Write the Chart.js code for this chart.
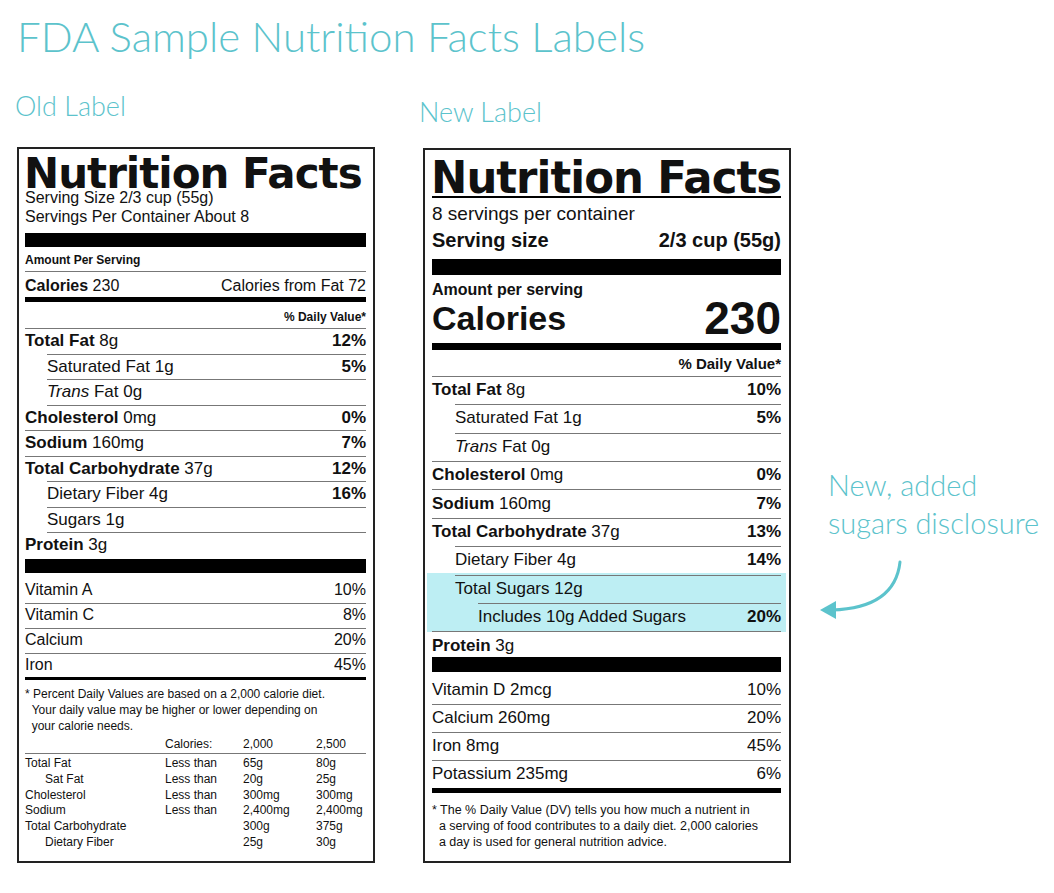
<!DOCTYPE html>
<html><head><meta charset="utf-8">
<script src="https://cdn.jsdelivr.net/npm/chart.js@4"></script>
<style>
body{margin:0;width:1054px;height:893px;background:#fff;position:relative;overflow:hidden;font-family:"Liberation Sans",Arial,sans-serif;color:#111}
.t{position:absolute;white-space:nowrap}
.teal{color:#5cc3cc;font-family:Lato,"Open Sans",sans-serif;font-weight:300}
.box{position:absolute;border:2px solid #222;box-sizing:border-box}
.bar{position:absolute;background:#000}
.rule{position:absolute;height:1px;background:#777}
.row{position:absolute;display:flex;justify-content:space-between;align-items:center}
b{font-weight:900}
.nf{position:absolute;font-family:"DejaVu Sans",sans-serif;font-weight:900;letter-spacing:-1px;transform-origin:left top;line-height:1}
#arrow{position:absolute;left:800px;top:550px;width:120px;height:80px}
</style></head><body>
<div class="t teal" style="left:17px;top:11px;font-size:42px">FDA Sample Nutrition Facts Labels</div>
<div class="t teal" style="left:15px;top:89px;font-size:27px">Old Label</div>
<div class="t teal" style="left:419px;top:95px;font-size:27px">New Label</div>
<div class="t teal" style="left:828px;top:466px;font-size:29px;line-height:38px">New, added<br>sugars disclosure</div>
<div id="hl" style="position:absolute;left:427px;top:573px;width:359px;height:59px;background:#bdeef3"></div>
<div class="box" style="left:17px;top:147px;width:358px;height:716px"></div>
<div class="box" style="left:423px;top:148px;width:368px;height:715px"></div>
<div id="root"></div>
<div id="arrow"><canvas id="c" width="120" height="80"></canvas></div>
<script>
// Old label
const oldNames=["Total Fat","Saturated Fat","Trans Fat","Cholesterol","Sodium","Total Carbohydrate","Dietary Fiber","Sugars","Protein"];
const oldAmounts=["8g","1g","0g","0mg","160mg","37g","4g","1g","3g"];
const oldDV=["12%","5%","","0%","7%","12%","16%","",""];
const oldVitNames=["Vitamin A","Vitamin C","Calcium","Iron"];
const oldVitDV=["10%","8%","20%","45%"];
const oldTableHead=["Calories:","2,000","2,500"];
const oldTableRows=["Total Fat","Sat Fat","Cholesterol","Sodium","Total Carbohydrate","Dietary Fiber"];
const oldTableLimit=["Less than","Less than","Less than","Less than","",""];
const oldTable2000=["65g","20g","300mg","2,400mg","300g","25g"];
const oldTable2500=["80g","25g","300mg","2,400mg","375g","30g"];
// New label
const newNames=["Total Fat","Saturated Fat","Trans Fat","Cholesterol","Sodium","Total Carbohydrate","Dietary Fiber","Total Sugars","Includes 10g Added Sugars","Protein"];
const newAmounts=["8g","1g","0g","0mg","160mg","37g","4g","12g","","3g"];
const newDV=["10%","5%","","0%","7%","13%","14%","","20%",""];
const newVitNames=["Vitamin D 2mcg","Calcium 260mg","Iron 8mg","Potassium 235mg"];
const newVitDV=["10%","20%","45%","6%"];

const root=document.getElementById('root');
function add(html){root.insertAdjacentHTML('beforeend',html);}
function t(x,y,s,css){add(`<div class="t" style="left:${x}px;top:${y}px;${css||''}">${s}</div>`);}
function bar(x,y,w,h){add(`<div class="bar" style="left:${x}px;top:${y}px;width:${w}px;height:${h}px"></div>`);}
function rule(x,y,w){add(`<div class="rule" style="left:${x}px;top:${y}px;width:${w}px"></div>`);}
function row(x,y,w,l,r,fs,h){add(`<div class="row" style="left:${x}px;top:${y-h/2}px;width:${w}px;height:${h}px;font-size:${fs}px"><span>${l}</span><span>${r}</span></div>`);}
const boldMain=new Set(["Total Fat","Cholesterol","Sodium","Total Carbohydrate","Protein"]);
function nm(n){return n==="Trans Fat"?"<i>Trans</i> Fat":(boldMain.has(n)?`<b>${n}</b>`:n);}

// ---- OLD
const ox=25,ow=341;
add(`<div class="nf" style="left:24px;top:153px;font-size:42px;transform:scaleX(1.0)">Nutrition Facts</div>`);
t(ox,189,"Serving Size 2/3 cup (55g)","font-size:16px");
t(ox,208,"Servings Per Container About 8","font-size:16px");
bar(ox,233,ow,14);
t(ox,253,"<b>Amount Per Serving</b>","font-size:12px");
rule(ox,271,ow);
row(ox,286,ow,"<b>Calories</b> 230","Calories from Fat 72",16,24);
bar(ox,297,ow,5);
row(ox,317,ow,"",`<b>% Daily Value*</b>`,12,20);
rule(ox,328,ow);
const indO=["Saturated Fat","Trans Fat","Dietary Fiber","Sugars"];
oldNames.forEach((n,i)=>{const y=341+i*25.5;const ind=indO.includes(n);
 row(ox+(ind?22:0),y,ow-(ind?22:0),`${nm(n)} ${oldAmounts[i]}`,oldDV[i]?`<b>${oldDV[i]}</b>`:"",17,25);
 if(i<oldNames.length-1){const r=(ind||indO.includes(oldNames[i+1]))?22:0;rule(ox+r,y+12.5,ow-r);}});
bar(ox,559,ow,14);
oldVitNames.forEach((n,i)=>{const y=590+i*25;row(ox,y,ow,n,oldVitDV[i],16,25);rule(ox,y+12.5,ow);});
bar(ox,677,ow,3);
t(ox,686,"* Percent Daily Values are based on a 2,000 calorie diet.<br>&nbsp;&nbsp;Your daily value may be higher or lower depending on<br>&nbsp;&nbsp;your calorie needs.","font-size:12px;line-height:16px");
const cx=[25,165,243,316];
t(cx[1],737,oldTableHead[0],"font-size:12px");t(cx[2],737,oldTableHead[1],"font-size:12px");t(cx[3],737,oldTableHead[2],"font-size:12px");
rule(ox,753,ow);
oldTableRows.forEach((n,i)=>{const y=756+i*15.8;const sub=(n==="Sat Fat"||n==="Dietary Fiber");
 t(cx[0]+(sub?20:0),y,n,"font-size:12px");t(cx[1],y,oldTableLimit[i],"font-size:12px");t(cx[2],y,oldTable2000[i],"font-size:12px");t(cx[3],y,oldTable2500[i],"font-size:12px");});

// ---- NEW
const nx=432,nw=349;
add(`<div class="nf" style="left:431px;top:155px;font-size:45px;transform:scaleX(0.965)">Nutrition Facts</div>`);
bar(nx,196,nw,2);
t(nx,203,"8 servings per container","font-size:19px");
row(nx,240,nw,"<b>Serving size</b>","<b>2/3 cup (55g)</b>",20,26);
bar(nx,259,nw,16);
t(nx,281,"<b>Amount per serving</b>","font-size:16px");
row(nx,318,nw,"<b style='font-size:34px'>Calories</b>","<b style='font-size:46px'>230</b>",16,46);
bar(nx,343,nw,7);
row(nx,363,nw,"","<b>% Daily Value*</b>",15,22);
rule(nx,376,nw);
const indN=["Saturated Fat","Trans Fat","Dietary Fiber","Total Sugars"];
newNames.forEach((n,i)=>{const y=390+i*28.4;let ind=indN.includes(n)?23:(n.startsWith("Includes")?46:0);
 row(nx+ind,y,nw-ind,`${nm(n)} ${newAmounts[i]}`,newDV[i]?`<b>${newDV[i]}</b>`:"",17,28);
 if(i<newNames.length-1){const nn=newNames[i+1];const ri=indN.includes(nn)?23:(nn.startsWith("Includes")?46:0);rule(nx+ri,y+14.2,nw-ri);}});
bar(nx,657,nw,15);
newVitNames.forEach((n,i)=>{const y=690+i*28;row(nx,y,nw,n,newVitDV[i],17,28);if(i<3)rule(nx,y+14,nw);});
bar(nx,788,nw,5);
t(nx,802,"* The % Daily Value (DV) tells you how much a nutrient in<br>&nbsp;&nbsp;a serving of food contributes to a daily diet. 2,000 calories<br>&nbsp;&nbsp;a day is used for general nutrition advice.","font-size:12.5px;line-height:16px");

// arrow via Chart.js plugin
const arrowPlugin={id:'arrow',afterDraw(ch){const g=ch.ctx;g.save();g.strokeStyle='#5cc3cc';g.fillStyle='#5cc3cc';g.lineWidth=3;g.lineCap='round';
 g.beginPath();g.moveTo(100,12);g.quadraticCurveTo(95,58,32,60);g.stroke();
 g.beginPath();g.moveTo(20,60);g.lineTo(36,51);g.lineTo(36,69);g.closePath();g.fill();g.restore();}};
new Chart(document.getElementById('c'),{type:'line',data:{labels:[],datasets:[]},options:{responsive:false,animation:false,plugins:{legend:{display:false},tooltip:{enabled:false}},scales:{x:{display:false},y:{display:false}}},plugins:[arrowPlugin]});
</script>
</body></html>
